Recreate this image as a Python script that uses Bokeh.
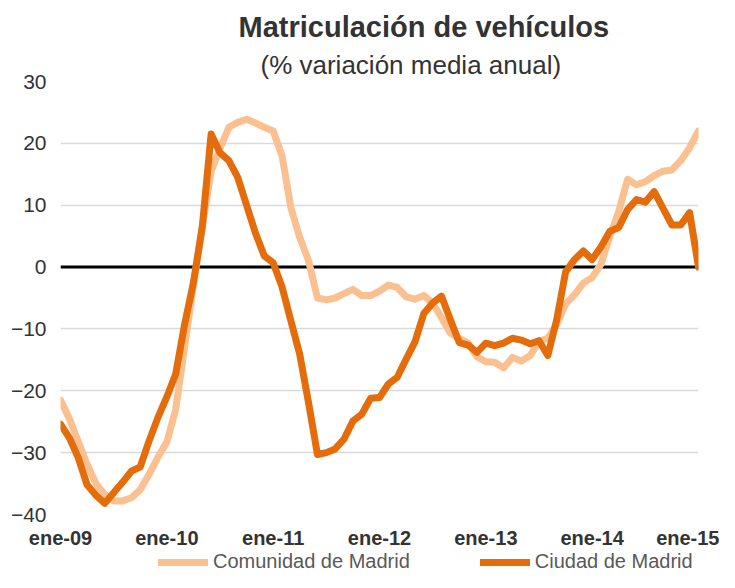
from bokeh.plotting import figure
from bokeh.layouts import column
from bokeh.models import Range1d, FixedTicker, Span, Title, Legend, LegendItem
from bokeh.embed import file_html
from bokeh.resources import INLINE

# ---- data (monthly, ene-09 .. ene-15) ----
etiquetas = ["ene-09", "ene-10", "ene-11", "ene-12", "ene-13", "ene-14", "ene-15"]
pos_etiquetas = [0, 12, 24, 36, 48, 60, 72]
y_ticks = [-40, -30, -20, -10, 0, 10, 20, 30]
series = ["Comunidad de Madrid", "Ciudad de Madrid"]

comunidad = [
    -21.5, -24.5, -28.2, -31.9, -35.0, -36.8, -37.8, -37.8, -37.3, -36.0,
    -33.5, -30.7, -28.3, -23.0, -13.0, -3.0, 6.5, 15.5, 19.2, 22.6,
    23.4, 23.9, 23.3, 22.6, 22.0, 18.0, 9.6, 4.8, 1.0, -5.0,
    -5.3, -5.0, -4.3, -3.6, -4.6, -4.6, -3.9, -2.9, -3.3, -4.8,
    -5.2, -4.6, -5.8, -8.2, -10.7, -11.5, -12.3, -14.5, -15.3, -15.4,
    -16.3, -14.6, -15.2, -14.3, -12.0, -11.5, -9.3, -6.0, -4.5, -2.6,
    -1.7, 0.5, 5.0, 9.0, 14.2, 13.3, 13.8, 14.8, 15.5, 15.7,
    17.2, 19.3, 22.0,
]
ciudad = [
    -25.4, -27.6, -30.8, -35.2, -36.9, -38.2, -36.5, -34.8, -33.0, -32.3,
    -28.1, -24.3, -21.0, -17.3, -9.3, -2.5, 6.5, 21.5, 18.5, 17.2,
    14.5, 10.0, 5.5, 1.8, 0.7, -3.2, -8.7, -14.1, -22.0, -30.3,
    -30.0, -29.4, -27.8, -24.9, -23.8, -21.2, -21.1, -18.9, -17.8, -14.9,
    -12.1, -7.5, -5.8, -4.7, -8.5, -12.2, -12.6, -13.8, -12.3, -12.7,
    -12.3, -11.5, -11.8, -12.4, -11.9, -14.3, -8.5, -0.8, 1.2, 2.6,
    1.2, 3.3, 5.8, 6.4, 9.3, 10.9, 10.5, 12.2, 9.5, 6.8,
    6.8, 8.8, 0.0,
]
meses = list(range(len(comunidad)))

FONT = "Liberation Sans"
C_LIGHT = "#FAC090"
C_DARK = "#E46C0A"
TXT = "#333333"
LW = 7

p = figure(
    frame_width=638, frame_height=433,
    min_border_left=60, min_border_right=21, min_border_top=81, min_border_bottom=36,
    x_range=Range1d(0, 72), y_range=Range1d(-40, 30),
    output_backend="svg", toolbar_location=None,
)
p.outline_line_color = None
p.background_fill_color = "white"
p.border_fill_color = "white"

p.xgrid.visible = False
p.ygrid.ticker = FixedTicker(ticks=y_ticks)
p.ygrid.grid_line_color = "#D9D9D9"
p.ygrid.grid_line_width = 1.5

zero = Span(location=0, dimension="width", line_color="black", line_width=3, level="underlay")
p.add_layout(zero)

p.line(meses, comunidad, line_color=C_LIGHT, line_width=LW, line_join="round", line_cap="round")
p.line(meses, ciudad, line_color=C_DARK, line_width=LW, line_join="round", line_cap="round")

# axes
p.xaxis.ticker = FixedTicker(ticks=pos_etiquetas)
p.xaxis.major_label_overrides = {k: v for k, v in zip(pos_etiquetas, etiquetas)}
p.xaxis.major_label_text_font = FONT
p.xaxis.major_label_text_font_size = "20px"
p.xaxis.major_label_text_font_style = "bold"
p.xaxis.major_label_text_color = TXT
p.xaxis.major_label_standoff = 12

p.yaxis.ticker = FixedTicker(ticks=y_ticks)
p.yaxis.major_label_text_font = FONT
p.yaxis.major_label_text_font_size = "21px"
p.yaxis.major_label_text_color = TXT
p.yaxis.major_label_standoff = 14

for ax in (p.xaxis, p.yaxis):
    ax.axis_label = None
    ax.axis_line_color = None
    ax.major_tick_line_color = None
    ax.minor_tick_line_color = None
    ax.major_tick_in = 0
    ax.major_tick_out = 0
    ax.minor_tick_in = 0
    ax.minor_tick_out = 0

# titles (first added sits closest to the frame)
subtitulo = Title(text="(% variación media anual)", align="left", offset=200, standoff=4,
                  text_font=FONT, text_font_size="26px", text_font_style="normal",
                  text_color=TXT)
titulo = Title(text="Matriculación de vehículos", align="left", offset=178, standoff=6,
               text_font=FONT, text_font_size="29px", text_font_style="bold",
               text_color=TXT)
p.add_layout(subtitulo, "above")
p.add_layout(titulo, "above")

# legend strip below the chart (its lines lie outside the strip's visible range)
lf = figure(width=719, height=22, min_border=0, x_axis_location=None, y_axis_location=None,
            x_range=Range1d(0, 72), y_range=Range1d(100, 101),
            output_backend="svg", toolbar_location=None)
lf.outline_line_color = None
lf.grid.visible = False
lf.background_fill_color = "white"
lf.border_fill_color = "white"
l1 = lf.line(meses, comunidad, line_color=C_LIGHT, line_width=LW, line_cap="round")
l2 = lf.line(meses, ciudad, line_color=C_DARK, line_width=LW, line_cap="round")

legend = Legend(
    items=[LegendItem(label=series[0], renderers=[l1]),
           LegendItem(label=series[1], renderers=[l2])],
    orientation="horizontal", location=(98, 0),
    spacing=70, padding=0, margin=0,
    glyph_width=50, glyph_height=18, label_height=18, label_standoff=5,
    label_text_font=FONT, label_text_font_size="20px", label_text_color="#595959",
    background_fill_alpha=0, border_line_color=None,
)
lf.add_layout(legend)

open("out.html", "w").write(file_html(column(p, lf, spacing=0), INLINE))
